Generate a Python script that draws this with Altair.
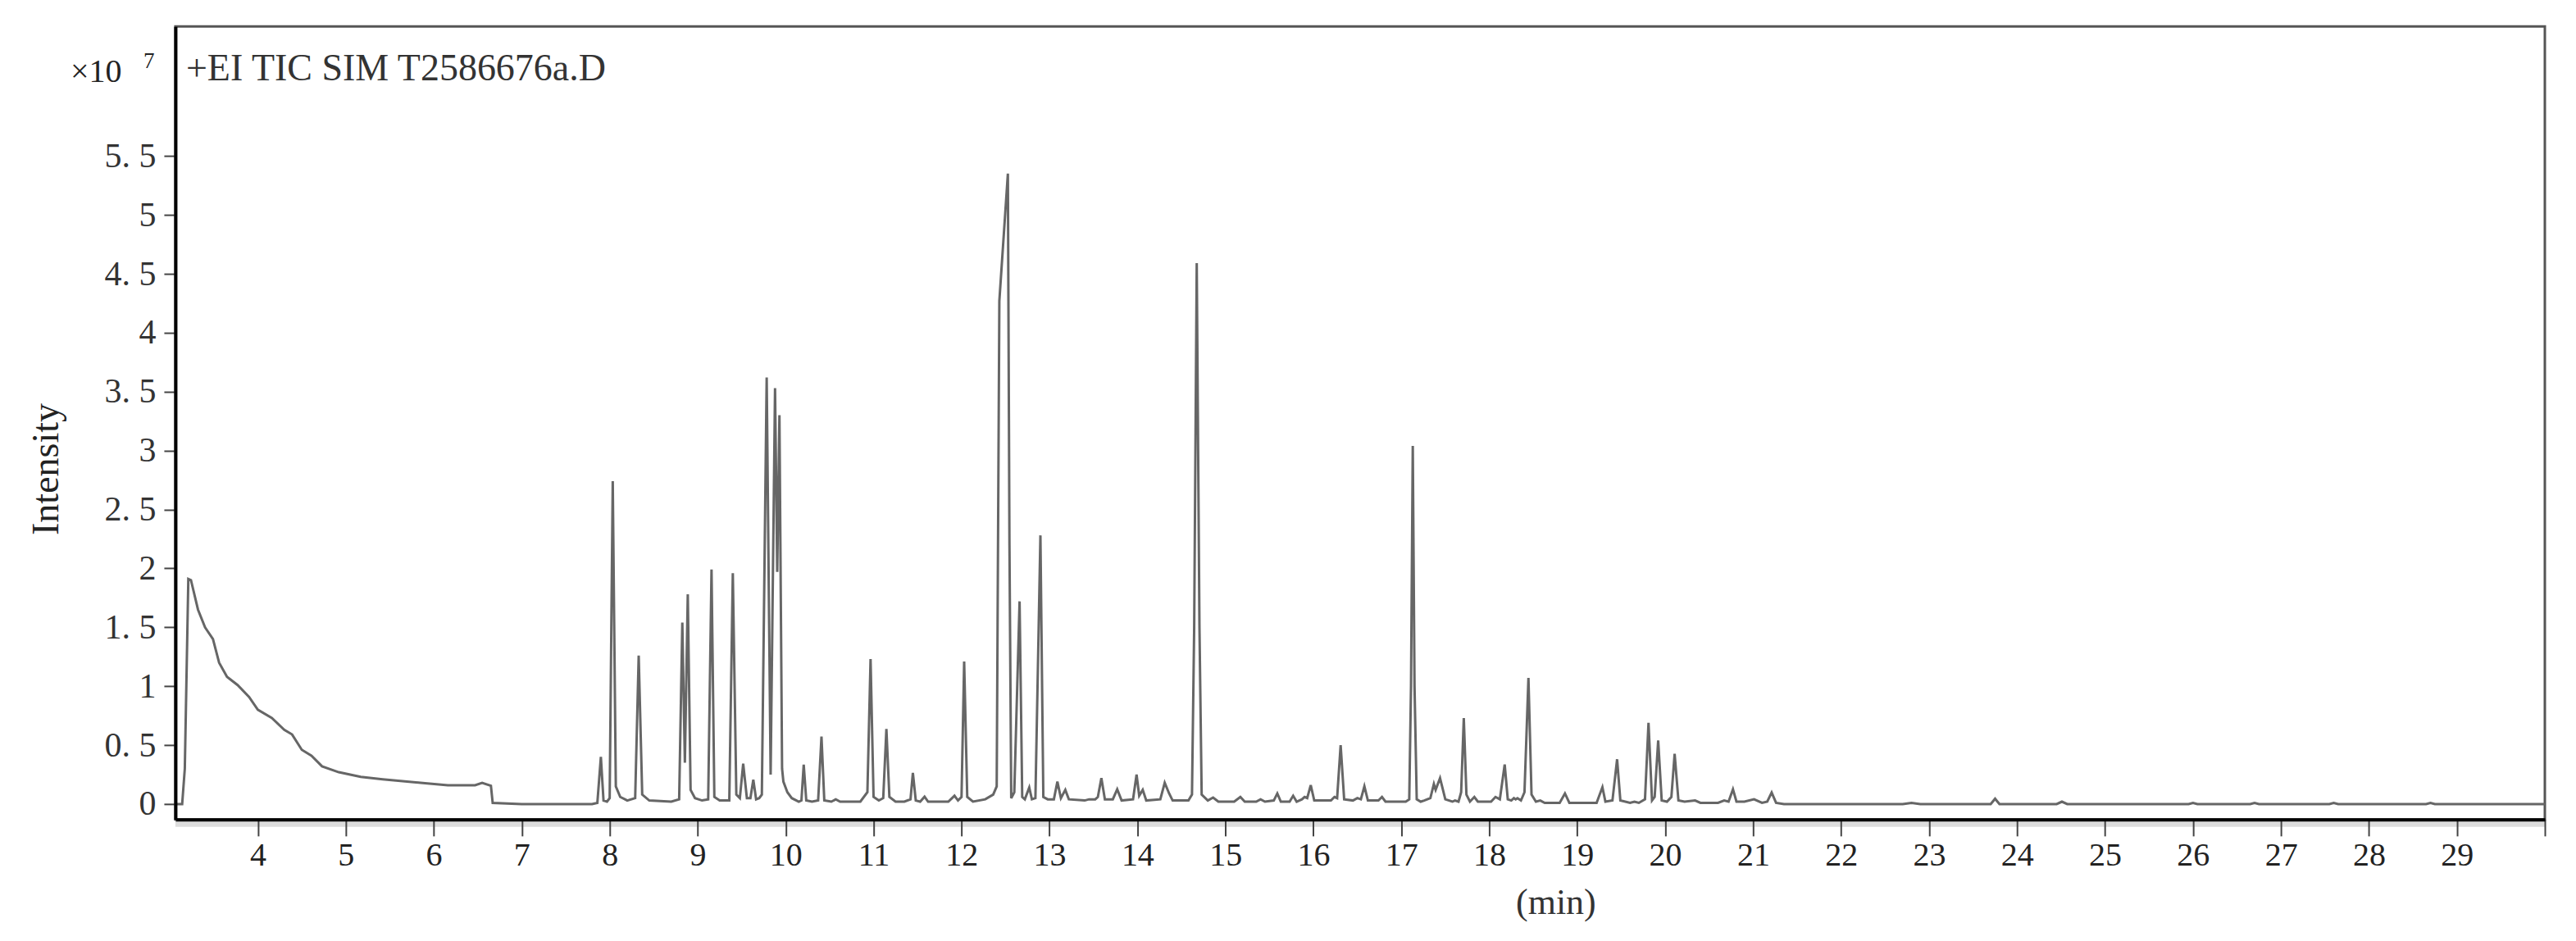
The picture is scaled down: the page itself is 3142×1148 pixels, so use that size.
import altair as alt
import pandas as pd

# ---- chromatogram trace: [time (min), intensity (x10^7)] ----
solvent_front = [
    [3.063, 0.00], [3.14, 0.00], [3.17, 0.30], [3.21, 1.91], [3.24, 1.90], [3.32, 1.65],
    [3.40, 1.50], [3.49, 1.40], [3.56, 1.20], [3.65, 1.08], [3.77, 1.01], [3.90, 0.91],
    [4.00, 0.80], [4.16, 0.73], [4.30, 0.63], [4.39, 0.59], [4.50, 0.46], [4.61, 0.41],
    [4.73, 0.32], [4.92, 0.27], [5.17, 0.23], [5.42, 0.21], [5.85, 0.18], [6.16, 0.16],
    [6.47, 0.16], [6.55, 0.18], [6.65, 0.155], [6.67, 0.01], [7.00, 0.00], [7.80, 0.00],
]
peaks_08_10 = [
    [7.86, 0.01], [7.90, 0.40], [7.93, 0.03], [7.97, 0.02], [8.00, 0.05], [8.035, 2.74],
    [8.07, 0.15], [8.12, 0.06], [8.20, 0.03], [8.29, 0.05], [8.33, 1.26], [8.37, 0.08],
    [8.45, 0.03], [8.70, 0.02], [8.79, 0.04], [8.826, 1.54], [8.855, 0.35], [8.888, 1.78],
    [8.92, 0.12], [8.97, 0.05], [9.05, 0.03], [9.12, 0.04], [9.158, 1.99], [9.19, 0.06],
    [9.25, 0.03], [9.36, 0.03], [9.40, 1.96], [9.44, 0.08], [9.48, 0.05], [9.518, 0.343],
    [9.56, 0.05], [9.60, 0.05], [9.633, 0.207], [9.665, 0.04], [9.70, 0.05], [9.73, 0.08],
    [9.785, 3.62], [9.83, 0.25], [9.88, 3.53], [9.905, 1.97], [9.93, 3.30], [9.96, 0.30],
    [9.975, 0.19], [10.02, 0.10], [10.07, 0.05], [10.15, 0.02], [10.18, 0.03], [10.206, 0.335],
    [10.235, 0.03], [10.30, 0.02], [10.37, 0.03], [10.408, 0.572], [10.44, 0.03], [10.52, 0.02],
    [10.57, 0.04], [10.62, 0.02],
]
peaks_11_15 = [
    [10.85, 0.02], [10.93, 0.10], [10.966, 1.23], [11.00, 0.06], [11.06, 0.03], [11.11, 0.05],
    [11.146, 0.637], [11.18, 0.06], [11.25, 0.02], [11.35, 0.02], [11.42, 0.04], [11.447, 0.264],
    [11.48, 0.03], [11.53, 0.02], [11.58, 0.062], [11.62, 0.02], [11.85, 0.02], [11.92, 0.07],
    [11.96, 0.03], [12.00, 0.06], [12.03, 1.21], [12.065, 0.06], [12.13, 0.02], [12.27, 0.04],
    [12.36, 0.08], [12.40, 0.15], [12.43, 4.27], [12.527, 5.35], [12.545, 2.20], [12.565, 0.05],
    [12.60, 0.10], [12.66, 1.72], [12.69, 0.06], [12.72, 0.04], [12.77, 0.14], [12.80, 0.04],
    [12.84, 0.05], [12.897, 2.28], [12.93, 0.06], [12.98, 0.04], [13.05, 0.04], [13.09, 0.19],
    [13.13, 0.05], [13.18, 0.12], [13.22, 0.04], [13.40, 0.03], [13.45, 0.04], [13.52, 0.04],
    [13.55, 0.06], [13.59, 0.22], [13.63, 0.04], [13.72, 0.04], [13.77, 0.125], [13.82, 0.03],
    [13.95, 0.04], [13.99, 0.25], [14.02, 0.07], [14.06, 0.12], [14.10, 0.03], [14.26, 0.04],
    [14.31, 0.18], [14.36, 0.09], [14.40, 0.03], [14.58, 0.03], [14.62, 0.08], [14.645, 1.50],
    [14.674, 4.59], [14.705, 1.50], [14.73, 0.08], [14.80, 0.03], [14.86, 0.055], [14.92, 0.02],
]
peaks_15_21 = [
    [15.10, 0.02], [15.17, 0.06], [15.22, 0.02], [15.35, 0.02], [15.40, 0.04], [15.45, 0.02],
    [15.55, 0.03], [15.59, 0.09], [15.63, 0.02], [15.73, 0.02], [15.77, 0.07], [15.81, 0.02],
    [15.87, 0.04], [15.90, 0.06], [15.93, 0.05], [15.97, 0.16], [16.01, 0.03], [16.20, 0.03],
    [16.24, 0.06], [16.27, 0.05], [16.31, 0.50], [16.35, 0.04], [16.45, 0.03], [16.50, 0.05],
    [16.54, 0.04], [16.58, 0.15], [16.62, 0.03], [16.74, 0.03], [16.78, 0.06], [16.82, 0.02],
    [17.05, 0.02], [17.09, 0.04], [17.11, 1.00], [17.13, 3.04], [17.15, 1.00], [17.175, 0.04],
    [17.22, 0.02], [17.26, 0.03], [17.33, 0.05], [17.37, 0.17], [17.39, 0.12], [17.44, 0.22],
    [17.50, 0.04], [17.58, 0.02], [17.61, 0.03], [17.65, 0.02], [17.68, 0.10], [17.71, 0.73],
    [17.74, 0.08], [17.78, 0.02], [17.83, 0.06], [17.87, 0.02], [18.02, 0.02], [18.07, 0.06],
    [18.12, 0.04], [18.175, 0.336], [18.21, 0.04], [18.25, 0.03], [18.28, 0.05], [18.30, 0.04],
    [18.32, 0.05], [18.36, 0.03], [18.40, 0.10], [18.445, 1.07], [18.48, 0.08], [18.53, 0.02],
    [18.58, 0.03], [18.63, 0.01], [18.71, 0.01], [18.80, 0.01], [18.86, 0.09], [18.91, 0.01],
    [19.22, 0.01], [19.286, 0.143], [19.32, 0.02], [19.40, 0.03], [19.453, 0.38], [19.49, 0.03],
    [19.60, 0.01], [19.65, 0.02], [19.70, 0.01], [19.77, 0.04], [19.81, 0.69], [19.85, 0.03],
    [19.88, 0.06], [19.92, 0.54], [19.96, 0.03], [20.02, 0.02], [20.07, 0.06], [20.107, 0.426],
    [20.15, 0.03], [20.22, 0.02], [20.34, 0.03], [20.40, 0.01], [20.60, 0.01], [20.67, 0.03],
    [20.72, 0.02], [20.77, 0.125], [20.81, 0.02], [20.90, 0.02], [21.01, 0.04], [21.10, 0.01],
    [21.16, 0.02], [21.21, 0.097], [21.26, 0.01], [21.35, 0.00],
]
tail_22_30 = [
    [22.70, 0.00], [22.80, 0.01], [22.90, 0.00], [23.70, 0.00], [23.75, 0.045], [23.80, 0.00],
    [24.45, 0.00], [24.51, 0.02], [24.57, 0.00], [25.95, 0.00], [26.00, 0.01], [26.05, 0.00],
    [26.65, 0.00], [26.70, 0.01], [26.75, 0.00], [27.55, 0.00], [27.60, 0.01], [27.65, 0.00],
    [28.65, 0.00], [28.70, 0.01], [28.75, 0.00], [30.00, 0.00],
]

x_tick_values = list(range(4, 31))
y_tick_values = [0, 0.5, 1, 1.5, 2, 2.5, 3, 3.5, 4, 4.5, 5, 5.5]
x_domain = [3.063, 30]
y_domain = [-0.132, 6.6]

header_text = ["+EI TIC SIM T2586676a.D"]
scale_text = ["×10"]
exponent_text = ["7"]

trace = pd.DataFrame(
    solvent_front + peaks_08_10 + peaks_11_15 + peaks_15_21 + tail_22_30,
    columns=["time", "intensity"],
)

W, H = 2891, 968
FONT = "Liberation Serif"

line = alt.Chart(trace).mark_line(color="#666666", strokeWidth=3, clip=True).encode(
    x=alt.X(
        "time:Q",
        scale=alt.Scale(domain=x_domain, nice=False, zero=False),
        axis=alt.Axis(
            values=x_tick_values,
            format="d",
            labelExpr="datum.value == 30 ? '' : datum.label",
            title="(min)",
            titleX=1684,
            titleY=102,
            titleBaseline="middle",
            titleAlign="center",
            titleFont=FONT,
            titleFontSize=44,
            titleFontWeight="normal",
            titleColor="#333333",
            labelFont=FONT,
            labelFontSize=40,
            labelColor="#222222",
            labelPadding=4,
            tickSize=20,
            tickWidth=2,
            tickColor="#444444",
            domainColor="#000000",
            domainWidth=4,
            grid=False,
            zindex=1,
        ),
    ),
    y=alt.Y(
        "intensity:Q",
        scale=alt.Scale(domain=y_domain, nice=False, zero=False),
        axis=alt.Axis(
            values=y_tick_values,
            format="~g",
            labelExpr="replace(datum.label, '.', '. ')",
            title="Intensity",
            titleAngle=270,
            titleX=-157,
            titleY=540,
            titleBaseline="middle",
            titleAlign="center",
            titleFont=FONT,
            titleFontSize=46,
            titleFontWeight="normal",
            titleColor="#222222",
            labelFont=FONT,
            labelFontSize=42,
            labelColor="#333333",
            labelPadding=10,
            labelBaseline="middle",
            tickSize=14,
            tickWidth=2,
            tickColor="#444444",
            domainColor="#000000",
            domainWidth=4,
            grid=False,
            zindex=1,
        ),
    ),
)

shadow = alt.Chart(pd.DataFrame({"k": [0]})).mark_rule(color="#dcdcdc", strokeWidth=8).encode(
    x=alt.value(0), x2=alt.value(W), y=alt.value(H + 5)
)

header = alt.Chart(pd.DataFrame({"label": header_text})).mark_text(
    align="left", baseline="alphabetic", font=FONT, fontSize=46, color="#333333"
).encode(x=alt.value(13), y=alt.value(66), text="label:N")

scale_lbl = alt.Chart(pd.DataFrame({"label": scale_text})).mark_text(
    align="left", baseline="alphabetic", font=FONT, fontSize=40, color="#222222"
).encode(x=alt.value(-128), y=alt.value(68), text="label:N")

expo_lbl = alt.Chart(pd.DataFrame({"label": exponent_text})).mark_text(
    align="left", baseline="alphabetic", font=FONT, fontSize=27, color="#222222"
).encode(x=alt.value(-39), y=alt.value(51), text="label:N")

chart = alt.layer(shadow, line, header, scale_lbl, expo_lbl).properties(
    width=W,
    height=H,
    autosize=alt.AutoSizeParams(type="none"),
    padding={"left": 206, "top": 24, "right": 30, "bottom": 140},
    background="#ffffff",
).configure_view(stroke="#555555", strokeWidth=3)

chart.save("out.html", embed_options={"renderer": "svg", "actions": False})
